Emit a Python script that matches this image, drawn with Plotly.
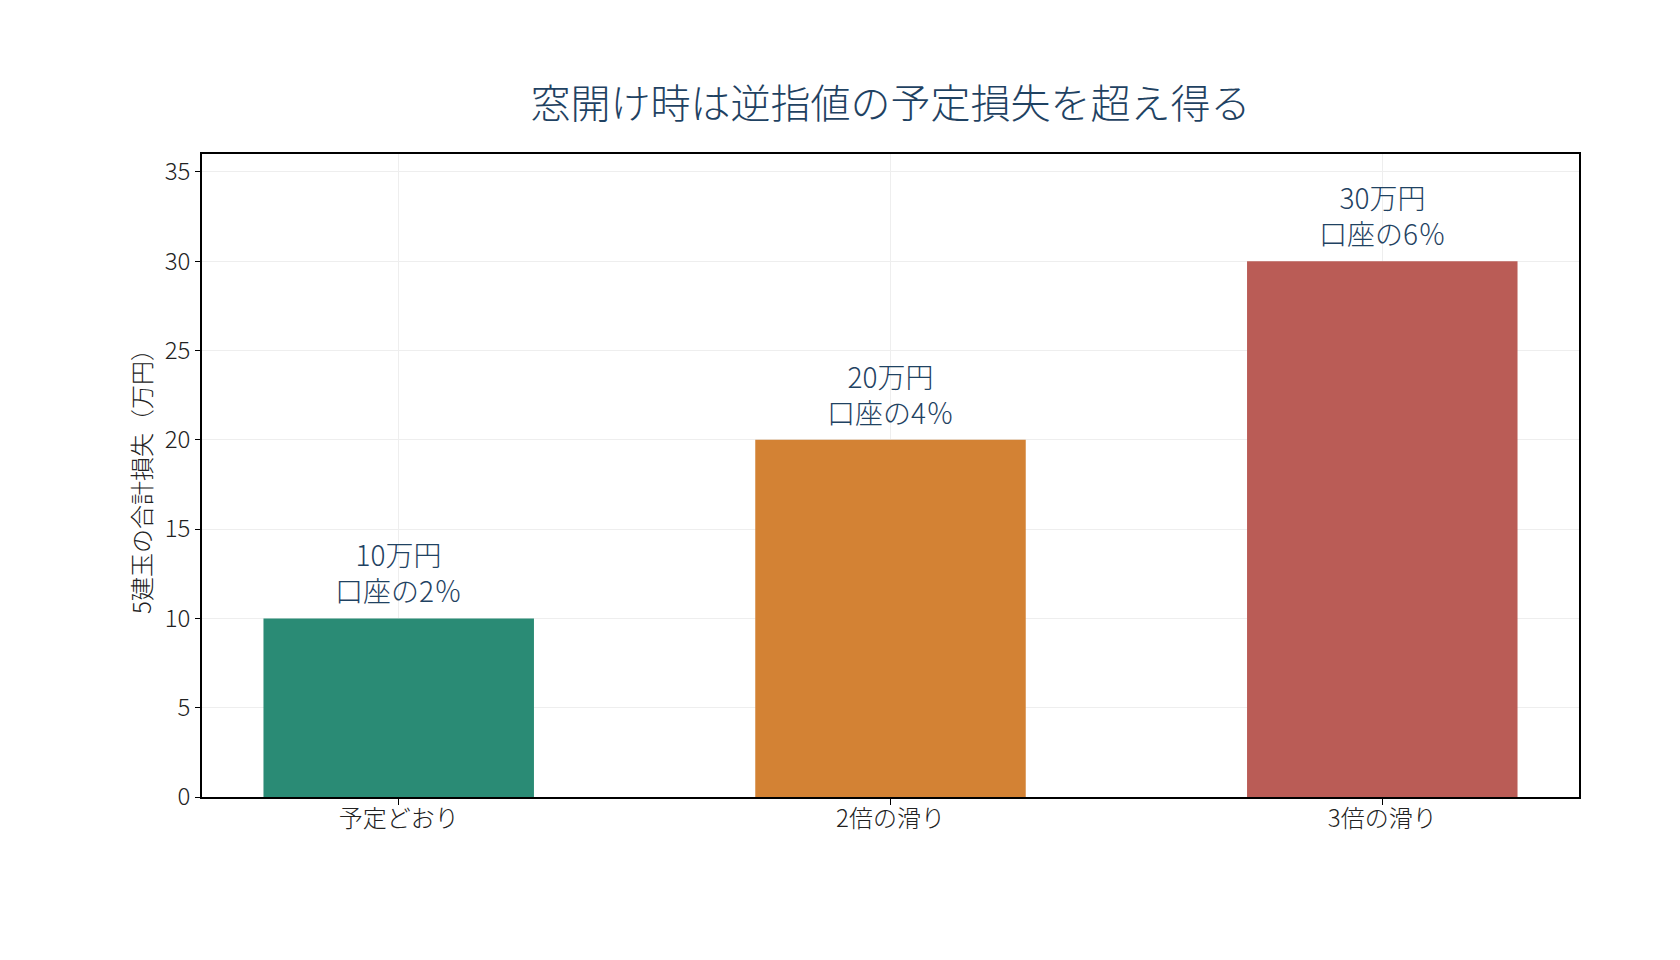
import plotly.graph_objects as go

categories = ["予定どおり", "2倍の滑り", "3倍の滑り"]
losses = [10, 20, 30]
label_amount = ["10万円", "20万円", "30万円"]
label_pct = ["口座の2％", "口座の4％", "口座の6％"]
colors = ["#2A8B75", "#D38234", "#BA5C56"]

FONT = "Noto Sans CJK JP"
TEXT_COLOR = "#1F4262"
LIGHT = 300

fig = go.Figure()
fig.add_trace(go.Bar(
    x=categories, y=losses, marker=dict(color=colors, line=dict(width=0)),
    width=0.55, showlegend=False, hoverinfo="skip",
))

for c, v, a, p in zip(categories, losses, label_amount, label_pct):
    fig.add_annotation(x=c, y=v, text=f"{a}<br>{p}", showarrow=False, xanchor="center",
                       yanchor="middle", yshift=46, align="center",
                       font=dict(family=FONT, size=28, color=TEXT_COLOR, weight=LIGHT))

fig.update_layout(
    width=1680, height=960,
    margin=dict(l=194, r=109, t=146, b=171),
    paper_bgcolor="white", plot_bgcolor="white",
    font=dict(family=FONT, size=24, color="#222222", weight=LIGHT),
    title=dict(text="窓開け時は逆指値の予定損失を超え得る", x=0.5, xanchor="center",
               xref="paper",
               y=1 - 96 / 960, yref="container", yanchor="middle",
               font=dict(family=FONT, size=40, color=TEXT_COLOR, weight=LIGHT)),
    bargap=0.45,
)
fig.update_xaxes(
    range=[-0.4, 2.4], showline=True, linecolor="black", linewidth=1.5, mirror=True,
    ticks="outside", ticklen=6, tickcolor="black", showgrid=True, gridcolor="#EEEEEE",
    ticklabelstandoff=-7,
    tickfont=dict(family=FONT, size=24, color="#222222", weight=LIGHT),
)
fig.update_yaxes(
    range=[0, 36], dtick=5, showline=True, linecolor="black", linewidth=1.5, mirror=True,
    ticks="outside", ticklen=5, tickcolor="black", showgrid=True, gridcolor="#EEEEEE",
    zeroline=False,
    tickfont=dict(family=FONT, size=24, color="#222222", weight=LIGHT),
    title=dict(text="5建玉の合計損失（万円）", standoff=6,
               font=dict(family=FONT, size=24, color="#222222", weight=LIGHT)),
)

fig.write_html("out.html")
